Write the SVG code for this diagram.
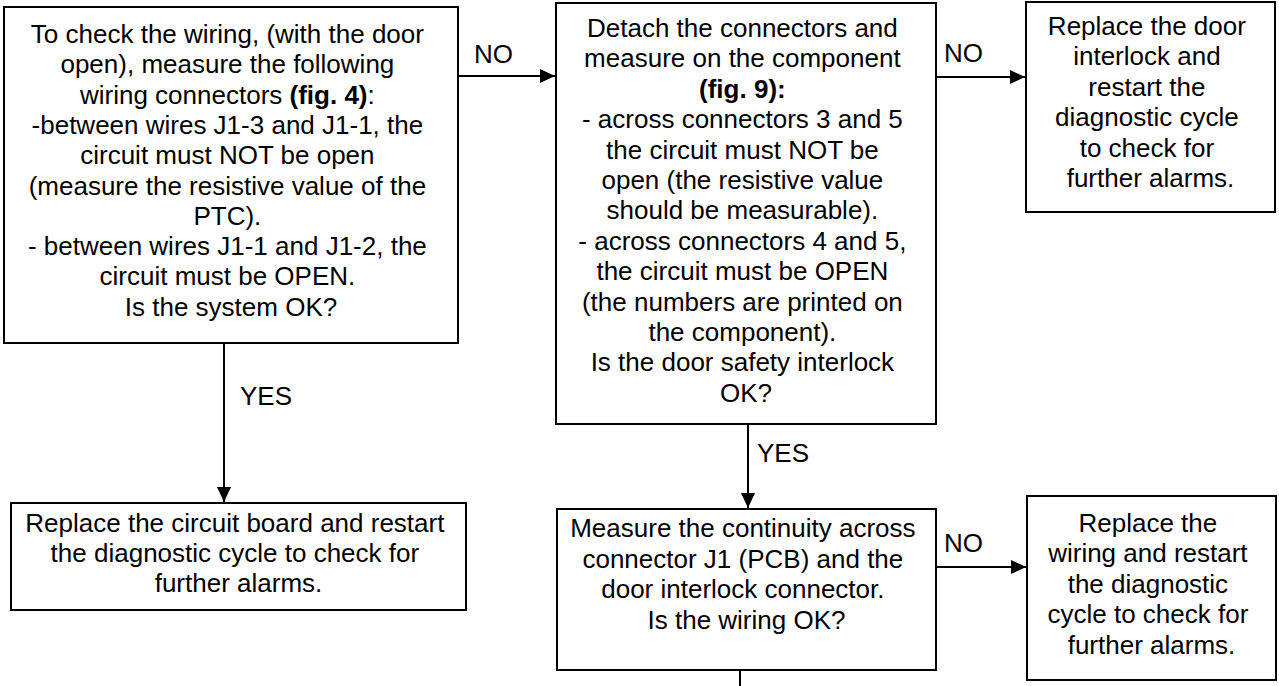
<svg xmlns="http://www.w3.org/2000/svg" width="1279" height="686" viewBox="0 0 1279 686">
<style>
.box{fill:#fff;stroke:#000;stroke-width:2}
.t{font-family:"Liberation Sans",Arial,sans-serif;font-size:26px;fill:#000;text-anchor:middle}
.lbl{font-family:"Liberation Sans",Arial,sans-serif;font-size:26px;fill:#000}
.c{stroke:#000;stroke-width:2;fill:none}
.b{font-weight:bold}
</style>
<defs>
<marker id="ah" markerUnits="userSpaceOnUse" markerWidth="16" markerHeight="16" refX="15" refY="7" orient="auto">
<path d="M0,0 L15,7 L0,14 z" fill="#000"/>
</marker>
</defs>
<rect width="1279" height="686" fill="#fff"/>
<g id="connectors">
<line class="c" x1="458" y1="76" x2="555" y2="76" marker-end="url(#ah)"/>
<line class="c" x1="936" y1="77" x2="1025" y2="77" marker-end="url(#ah)"/>
<line class="c" x1="224" y1="343" x2="224" y2="502" marker-end="url(#ah)"/>
<line class="c" x1="748" y1="424" x2="748" y2="508" marker-end="url(#ah)"/>
<line class="c" x1="936" y1="567" x2="1026" y2="567" marker-end="url(#ah)"/>
<line class="c" x1="740" y1="670" x2="740" y2="686"/>
<text class="lbl" x="474" y="63">NO</text>
<text class="lbl" x="944" y="62">NO</text>
<text class="lbl" x="240" y="405">YES</text>
<text class="lbl" x="757" y="462">YES</text>
<text class="lbl" x="944" y="552">NO</text>
</g>
<g id="node1">
<rect class="box" x="4" y="7" width="454" height="336"/>
<text class="t">
<tspan x="231" y="43">To check the wiring, (with the door</tspan>
<tspan x="231" y="73.3">open), measure the following</tspan>
<tspan x="231" y="103.6">wiring connectors <tspan class="b">(fig. 4)</tspan>:</tspan>
<tspan x="231" y="133.9">-between wires J1-3 and J1-1, the</tspan>
<tspan x="231" y="164.2">circuit must NOT be open</tspan>
<tspan x="231" y="194.5">(measure the resistive value of the</tspan>
<tspan x="231" y="224.8">PTC).</tspan>
<tspan x="231" y="255.1">- between wires J1-1 and J1-2, the</tspan>
<tspan x="231" y="285.4">circuit must be OPEN.</tspan>
<tspan x="231" y="315.7">Is the system OK?</tspan>
</text>
</g>
<g id="node2">
<rect class="box" x="556" y="3" width="380" height="421"/>
<text class="t">
<tspan x="746" y="37">Detach the connectors and</tspan>
<tspan x="746" y="67.4">measure on the component</tspan>
<tspan x="746" y="97.8" class="b">(fig. 9):</tspan>
<tspan x="746" y="128.2">- across connectors 3 and 5</tspan>
<tspan x="746" y="158.6">the circuit must NOT be</tspan>
<tspan x="746" y="189">open (the resistive value</tspan>
<tspan x="746" y="219.4">should be measurable).</tspan>
<tspan x="746" y="249.8">- across connectors 4 and 5,</tspan>
<tspan x="746" y="280.2">the circuit must be OPEN</tspan>
<tspan x="746" y="310.6">(the numbers are printed on</tspan>
<tspan x="746" y="341">the component).</tspan>
<tspan x="746" y="371.4">Is the door safety interlock</tspan>
<tspan x="746" y="401.8">OK?</tspan>
</text>
</g>
<g id="node3">
<rect class="box" x="1026" y="2" width="249" height="210"/>
<text class="t">
<tspan x="1150.5" y="35">Replace the door</tspan>
<tspan x="1150.5" y="65.4">interlock and</tspan>
<tspan x="1150.5" y="95.8">restart the</tspan>
<tspan x="1150.5" y="126.2">diagnostic cycle</tspan>
<tspan x="1150.5" y="156.6">to check for</tspan>
<tspan x="1150.5" y="187">further alarms.</tspan>
</text>
</g>
<g id="node4">
<rect class="box" x="11" y="503" width="455" height="107"/>
<text class="t">
<tspan x="238.5" y="532">Replace the circuit board and restart</tspan>
<tspan x="238.5" y="562">the diagnostic cycle to check for</tspan>
<tspan x="238.5" y="592">further alarms.</tspan>
</text>
</g>
<g id="node5">
<rect class="box" x="557" y="509" width="379" height="161"/>
<text class="t">
<tspan x="746.5" y="537">Measure the continuity across</tspan>
<tspan x="746.5" y="567.5">connector J1 (PCB) and the</tspan>
<tspan x="746.5" y="598">door interlock connector.</tspan>
<tspan x="746.5" y="628.5">Is the wiring OK?</tspan>
</text>
</g>
<g id="node6">
<rect class="box" x="1027" y="496" width="249" height="184"/>
<text class="t">
<tspan x="1151.5" y="532">Replace the</tspan>
<tspan x="1151.5" y="562.4">wiring and restart</tspan>
<tspan x="1151.5" y="592.8">the diagnostic</tspan>
<tspan x="1151.5" y="623.2">cycle to check for</tspan>
<tspan x="1151.5" y="653.6">further alarms.</tspan>
</text>
</g>
</svg>
